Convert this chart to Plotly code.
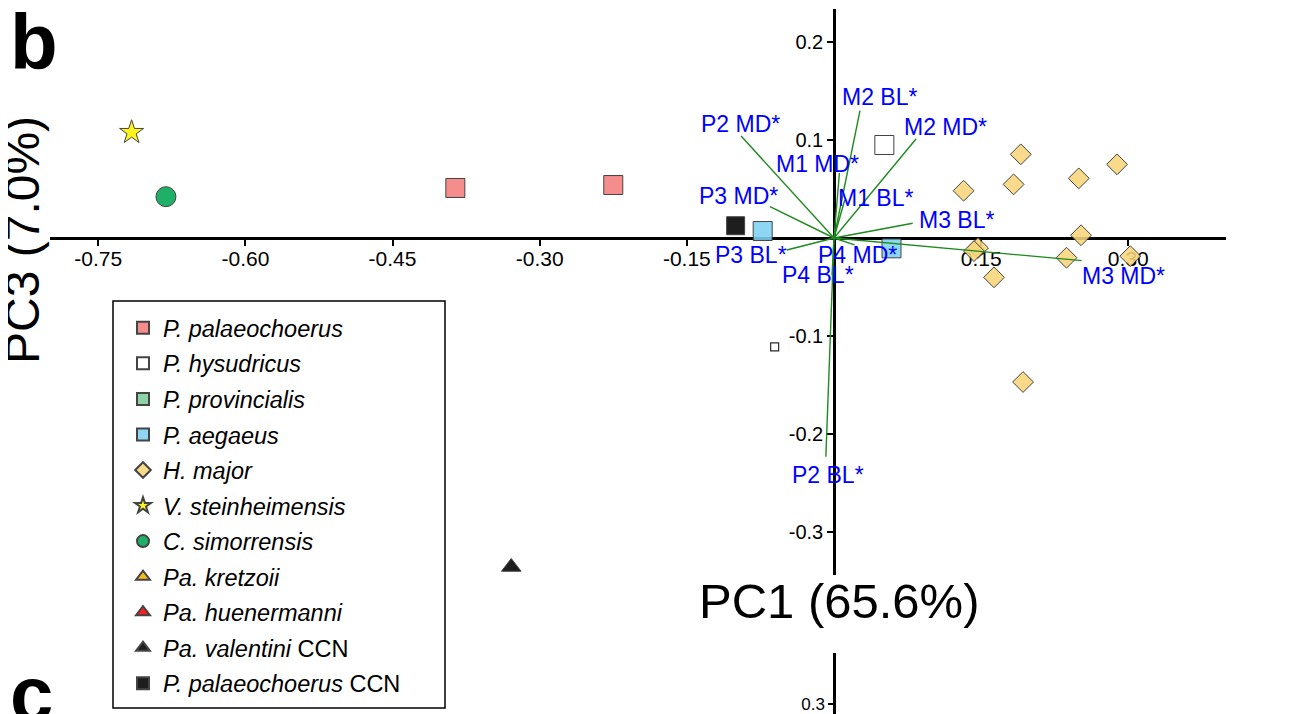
import plotly.graph_objects as go

# The page body adds an 8px margin, so the figure is sized to fit the window
OFF = 8
W, H = 1313 - OFF, 714 - OFF
FONT = "Liberation Sans, Arial, Helvetica, sans-serif"

# ---------------- data: PCA scores (PC1, PC3) ----------------
species = [
    "<i>P. palaeochoerus</i>",
    "<i>P. hysudricus</i>",
    "<i>P. provincialis</i>",
    "<i>P. aegaeus</i>",
    "<i>H. major</i>",
    "<i>V. steinheimensis</i>",
    "<i>C. simorrensis</i>",
    "<i>Pa. kretzoii</i>",
    "<i>Pa. huenermanni</i>",
    "<i>Pa. valentini</i> CCN",
    "<i>P. palaeochoerus</i> CCN",
]

pal_x = [-0.386, -0.225]
pal_y = [0.051, 0.054]
hys_x = [0.0513]
hys_y = [0.0948]
hys_small_x = [-0.0605]
hys_small_y = [-0.111]
prov_x = []
prov_y = []
aeg_x = [-0.0727, 0.0586]
aeg_y = [0.0071, -0.0105]
hmaj_x = [0.1321, 0.1904, 0.1831, 0.2495, 0.2885, 0.2518, 0.1468, 0.1427,
          0.2370, 0.3020, 0.1631, 0.1927]
hmaj_y = [0.0482, 0.0853, 0.0547, 0.0608, 0.0751, 0.0028, -0.0102, -0.0133,
          -0.0201, -0.0185, -0.0401, -0.1468]
vst_x = [-0.716]
vst_y = [0.1077]
csim_x = [-0.681]
csim_y = [0.0421]
kre_x = []
kre_y = []
hue_x = []
hue_y = []
val_x = [-0.329]
val_y = [-0.3354]
palccn_x = [-0.1003]
palccn_y = [0.0125]

score_x = [pal_x, hys_x, prov_x, aeg_x, hmaj_x, vst_x, csim_x, kre_x, hue_x, val_x, palccn_x]
score_y = [pal_y, hys_y, prov_y, aeg_y, hmaj_y, vst_y, csim_y, kre_y, hue_y, val_y, palccn_y]

# ---------------- data: variable loadings ----------------
loading_names = ["P2 MD*", "M2 BL*", "M2 MD*", "M1 MD*", "M1 BL*", "P3 MD*",
                 "M3 BL*", "M3 MD*", "P3 BL*", "P4 MD*", "P4 BL*", "P2 BL*"]
loading_x = [-0.0947, 0.0265, 0.0836, 0.0055, 0.011, -0.0652,
             0.0802, 0.2525, -0.0482, 0.021, -0.002, -0.0083]
loading_y = [0.104, 0.1298, 0.1009, 0.0663, 0.039, 0.0319,
             0.0150, -0.0231, -0.0122, -0.007, -0.038, -0.2229]

# ---------------- axes ticks ----------------
x_ticks = [-0.75, -0.60, -0.45, -0.30, -0.15, 0.15, 0.30]
x_tick_labels = ["-0.75", "-0.60", "-0.45", "-0.30", "-0.15", "0.15", "0.30"]
y_ticks = [0.2, 0.1, -0.1, -0.2, -0.3]
y_tick_labels = ["0.2", "0.1", "-0.1", "-0.2", "-0.3"]
y2_ticks = [0.3]
y2_tick_labels = ["0.3"]

# ---------------- styles ----------------
styles = [
    dict(symbol="square", color="#F47E7E", size=19),
    dict(symbol="square", color="#FFFFFF", size=19),
    dict(symbol="square", color="#7FCC9A", size=19),
    dict(symbol="square", color="#7ED2F3", size=19),
    dict(symbol="diamond", color="#F9D57A", size=16),
    dict(symbol="star", color="#FFF200", size=18),
    dict(symbol="circle", color="#00A651", size=20),
    dict(symbol="triangle-up", color="#F7B500", size=17),
    dict(symbol="triangle-up", color="#FF0000", size=17),
    dict(symbol="triangle-up", color="#000000", size=17),
    dict(symbol="square", color="#000000", size=18),
]
# label offsets in pixels (dx right, dy up) relative to loading tip
label_offsets = {
    "P2 MD*": (-1, 12), "M2 BL*": (19, 14), "M2 MD*": (29, 12),
    "M1 MD*": (-22, 9), "M1 BL*": (31, 2), "P3 MD*": (-32, 11),
    "M3 BL*": (44, 3), "M3 MD*": (42, -15), "P3 BL*": (-36, -5),
    "P4 MD*": (3, -10), "P4 BL*": (-14, 0), "P2 BL*": (2, -18),
}


def px(v):
    """window pixel x -> paper fraction"""
    return (v - OFF) / W


def py(v):
    """window pixel y -> paper fraction"""
    return 1 - (v - OFF) / H


fig = go.Figure()

for name, xs, ys, st in zip(species, score_x, score_y, styles):
    has = len(xs) > 0
    fig.add_trace(go.Scatter(
        x=xs if has else [None], y=ys if has else [None],
        mode="markers", name=name, legendgroup=name,
        marker=dict(symbol=st["symbol"], color=st["color"], size=st["size"],
                    opacity=0.88, line=dict(color="#2b2b2b", width=1)),
    ))
    if name == "<i>P. hysudricus</i>":
        fig.add_trace(go.Scatter(
            x=hys_small_x, y=hys_small_y, mode="markers", showlegend=False,
            legendgroup=name,
            marker=dict(symbol="square", color="#FFFFFF", size=8,
                        line=dict(color="#2b2b2b", width=1.2)),
        ))

# loading vectors
lx, ly = [], []
for x, y in zip(loading_x, loading_y):
    lx += [0, x, None]
    ly += [0, y, None]
fig.add_trace(go.Scatter(x=lx, y=ly, mode="lines", showlegend=False,
                         line=dict(color="#1F8A1F", width=1.4)))

# dummy trace to realise lower (panel c) axis
fig.add_trace(go.Scatter(x=[None], y=[None], xaxis="x", yaxis="y2",
                         showlegend=False))

for n, x, y in zip(loading_names, loading_x, loading_y):
    dx, dy = label_offsets[n]
    fig.add_annotation(x=x, y=y, xref="x", yref="y", text=n, showarrow=False,
                       xshift=dx, yshift=dy,
                       font=dict(family=FONT, size=23, color="#0000FF"))

# geometry in window pixels
ox, oy, sc = 834, 238, 981.0
xl, xr = 50, 1226
yt, yb = 8.5, 575

fig.update_layout(
    width=W, height=H,
    margin=dict(l=0, r=0, t=0, b=0),
    paper_bgcolor="white", plot_bgcolor="rgba(0,0,0,0)",
    font=dict(family=FONT, color="black"),
    xaxis=dict(
        domain=[px(xl), px(xr)], range=[(xl - ox) / sc, (xr - ox) / sc],
        anchor="free", position=py(oy),
        showgrid=False, zeroline=False, showline=True, linecolor="black",
        linewidth=2.5, ticks="outside", ticklen=6, tickwidth=2,
        tickcolor="black", tickvals=x_ticks, ticktext=x_tick_labels,
        tickfont=dict(size=21, family=FONT, color="black"),
        ticklabelstandoff=-5,
        layer="below traces",
    ),
    yaxis=dict(
        domain=[py(yb), py(yt)], range=[(oy - yb) / sc, (oy - yt) / sc],
        anchor="free", position=px(ox),
        showgrid=False, zeroline=False, showline=True, linecolor="black",
        linewidth=2.5, ticks="outside", ticklen=6, tickwidth=2,
        tickcolor="black", tickvals=y_ticks, ticktext=y_tick_labels,
        tickfont=dict(size=20, family=FONT, color="black"),
        layer="below traces",
    ),
    yaxis2=dict(
        domain=[0, py(653)], range=[0.3 - (714 - 704) / sc, 0.3 + (704 - 653) / sc],
        anchor="free", position=px(ox),
        showgrid=False, zeroline=False, showline=True, linecolor="black",
        linewidth=2.5, ticks="outside", ticklen=5, tickwidth=1.5,
        tickcolor="black", tickvals=y2_ticks, ticktext=y2_tick_labels,
        tickfont=dict(size=17, family=FONT, color="black"),
    ),
    legend=dict(
        x=px(123), xanchor="left", y=py(306), yanchor="top",
        bgcolor="rgba(0,0,0,0)", borderwidth=0,
        font=dict(family=FONT, size=23.5, color="black"),
        itemsizing="constant", tracegroupgap=2,
    ),
    showlegend=True,
)

# legend frame
fig.add_shape(type="rect", xref="paper", yref="paper",
              x0=px(113), x1=px(445), y0=py(708), y1=py(301),
              line=dict(color="black", width=1.5))

# panel letters & axis titles
fig.add_annotation(xref="paper", yref="paper", x=px(8), y=py(-4),
                   xanchor="left", yanchor="top", text="<b>b</b>", showarrow=False,
                   font=dict(family=FONT, size=78, color="black"))
fig.add_annotation(xref="paper", yref="paper", x=px(8), y=py(648),
                   xanchor="left", yanchor="top", text="<b>c</b>", showarrow=False,
                   font=dict(family=FONT, size=78, color="black"))
fig.add_annotation(xref="paper", yref="paper", x=px(839), y=py(601),
                   xanchor="center", yanchor="middle", text="PC1 (65.6%)",
                   showarrow=False, font=dict(family=FONT, size=49, color="black"))
fig.add_annotation(xref="paper", yref="paper", x=px(22), y=py(240),
                   xanchor="center", yanchor="middle", text="PC3 (7.0%)",
                   textangle=-90, showarrow=False,
                   font=dict(family=FONT, size=48, color="black"))

fig.write_html("out.html")
